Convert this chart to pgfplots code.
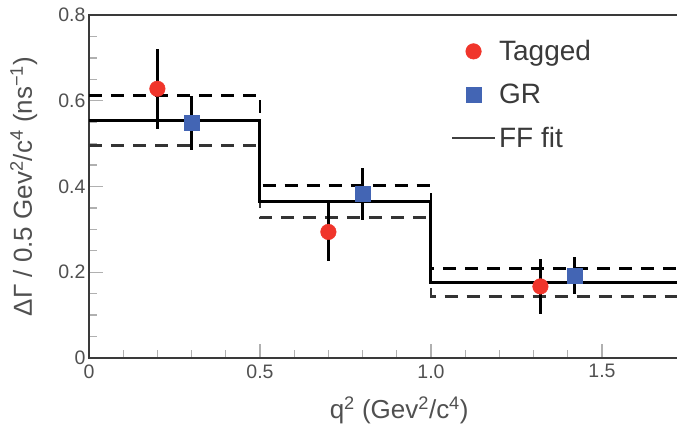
\documentclass[border=0pt]{standalone}
\usepackage{fontspec}
\setmainfont{Liberation Sans}
\usepackage{pgfplots}
\pgfplotsset{compat=1.18}
\definecolor{tagred}{HTML}{F0352B}
\definecolor{grblue}{HTML}{4365B4}
\definecolor{framegray}{HTML}{3A3A3A}
\definecolor{ticktxt}{HTML}{505050}
\definecolor{tickgray}{HTML}{B0B0B0}
\pgfplotsset{ebars/.style={error bars/.cd, y dir=both, y explicit, error mark=none,
  error bar style={black, line width=2.7pt}}}
\begin{document}
\begin{tikzpicture}
\begin{axis}[
  scale only axis, width=593pt, height=343pt,
  xmin=0, xmax=1.734, ymin=0, ymax=0.8,
  axis line style={framegray, line width=2.8pt},
  xtick={0,0.5,1,1.5}, xticklabels={0,0.5,1.0,1.5},
  ytick={0,0.2,0.4,0.6,0.8}, yticklabels={0,0.2,0.4,0.6,0.8},
  minor x tick num=4, minor y tick num=3,
  xtick pos=lower, ytick pos=left,
  tick align=inside,
  major tick length=14pt, minor tick length=8pt,
  every tick/.style={tickgray, line width=1.3pt},
  tick label style={font=\fontsize{19.5}{19.5}\selectfont, text=ticktxt},
  xticklabel style={yshift=-3pt},
  label style={font=\fontsize{26}{26}\selectfont, text=ticktxt},
  xlabel={q\textsuperscript{2} (Gev\textsuperscript{2}/c\textsuperscript{4})},
  ylabel={ΔΓ / 0.5 Gev\textsuperscript{2}/c\textsuperscript{4} (ns\textsuperscript{−1})},
  xlabel style={at={(axis description cs:0.523,-0.152)}, anchor=center},
  ylabel style={at={(axis description cs:-0.11,0.5)}, anchor=center},
  legend style={at={(axis description cs:0.61,0.935)}, anchor=north west, draw=none, fill=none,
    font=\fontsize{28}{28}\selectfont, text=framegray, row sep=16pt, inner sep=0pt,
    nodes={inner sep=3pt}},
  legend cell align=left,
  legend image code/.code={\draw[mark repeat=2,mark phase=2,#1] plot coordinates {(0pt,0pt) (21.5pt,0pt) (43pt,0pt)};},
]
\coordinate (ll) at (rel axis cs:0,0);
\coordinate (ur) at (rel axis cs:1,1);
% fit and its band
\addplot[forget plot, const plot mark left, black, line width=2.7pt, dash pattern=on 13pt off 9pt]
  coordinates {(0,0.613) (0.5,0.402) (1.0,0.208) (1.8,0.208)};
\addplot[forget plot, const plot mark left, black!80, line width=2.7pt, dash pattern=on 13pt off 9pt]
  coordinates {(0,0.495) (0.5,0.327) (1.0,0.144) (1.8,0.144)};
\addplot[forget plot, const plot mark left, black, line width=3pt]
  coordinates {(0,0.555) (0.5,0.366) (1.0,0.175) (1.8,0.175)};
% Tagged
\addplot[only marks, mark=*, mark size=7.8pt, color=tagred, mark options={draw=none, fill=tagred}, ebars]
  coordinates {(0.2,0.628) +- (0,0.093) (0.7,0.294) +- (0,0.067) (1.32,0.167) +- (0,0.064)};
\addlegendentry{Tagged}
% GR
\addplot[only marks, mark=square*, mark size=7.5pt, color=grblue, mark options={draw=none, fill=grblue}, ebars]
  coordinates {(0.3,0.548) +- (0,0.063) (0.8,0.383) +- (0,0.061) (1.42,0.192) +- (0,0.043)};
\addlegendentry{GR}
\addlegendimage{black!75, line width=2.2pt}
\addlegendentry{FF fit}
\end{axis}
\pgfresetboundingbox
\path[use as bounding box] ([shift={(-89pt,-73pt)}]ll) rectangle ([shift={(-5pt,15pt)}]ur);
\end{tikzpicture}
\end{document}
